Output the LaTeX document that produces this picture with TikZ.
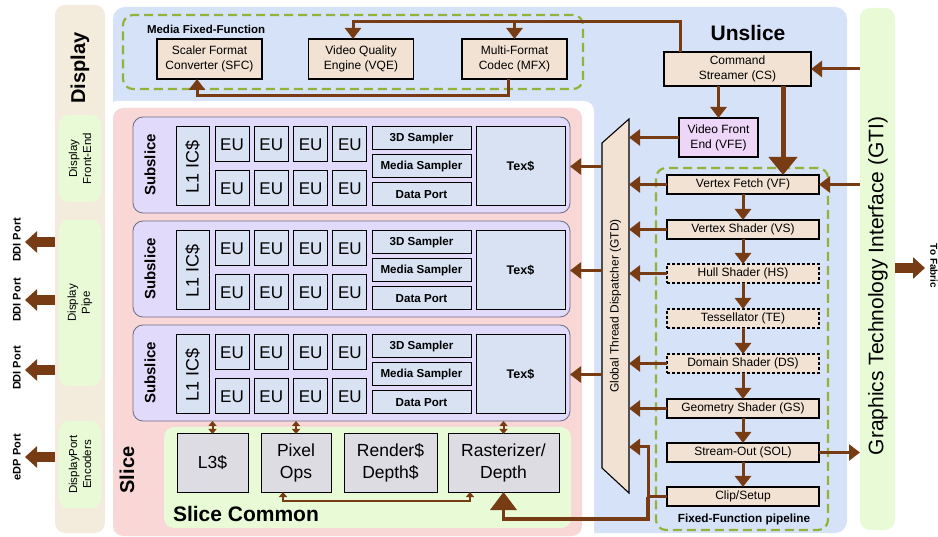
\documentclass[tikz,border=0pt]{standalone}
\usepackage{fontspec}
\setmainfont{Liberation Sans}
\usetikzlibrary{arrows.meta,calc}

\definecolor{brn}{RGB}{120,60,20}
\definecolor{unslicebg}{RGB}{214,226,248}
\definecolor{slicebg}{RGB}{248,215,214}
\definecolor{subbg}{RGB}{226,218,250}
\definecolor{subedge}{RGB}{110,110,130}
\definecolor{cellbg}{RGB}{216,226,242}
\definecolor{tanbg}{RGB}{242,226,212}
\definecolor{vfebg}{RGB}{238,214,248}
\definecolor{greenbg}{RGB}{232,250,214}
\definecolor{dispbg}{RGB}{243,236,221}
\definecolor{dashgreen}{RGB}{146,178,58}
\definecolor{commonbox}{RGB}{220,220,226}

\newcommand\fsz[1]{\fontsize{#1}{#1}\selectfont}

\tikzset{
  every node/.style={inner sep=0pt, outer sep=0pt, align=center, font=\fsz{12}},
  panel/.style={rounded corners=10pt, draw=none},
  dashbox/.style={draw=dashgreen, line width=2.2pt, dash pattern=on 9pt off 5pt, rounded corners=10pt},
  tanbox/.style={draw=black, line width=1.1pt, fill=tanbg},
  stagebox/.style={tanbox, minimum width=152pt, minimum height=19pt, font=\fsz{12}},
  optstage/.style={stagebox, dash pattern=on 3pt off 2pt},
  cell/.style={draw=black, line width=1pt, fill=cellbg},
  commoncell/.style={draw=black, line width=1pt, fill=commonbox, minimum height=58pt, font={\fontsize{17.5}{21.5}\selectfont}},
  samp/.style={cell, minimum width=99pt, minimum height=23pt, font=\bfseries\fsz{11.6}},
  arr/.style={draw=brn, line width=3pt, -{Triangle[length=11pt,width=16pt]}},
  bigarr/.style={draw=brn, line width=5pt, -{Triangle[length=18pt,width=28pt]}},
  portarr/.style={draw=brn, line width=10pt, -{Triangle[length=12pt,width=21pt]}},
  duo/.style={draw=brn, line width=2pt, {Triangle[length=5pt,width=8pt]}-{Triangle[length=5pt,width=8pt]}},
  portlbl/.style={rotate=90, font=\bfseries\fsz{11}},
}

\begin{document}
\begin{tikzpicture}[x=1pt,y=-1pt]
\useasboundingbox (0,0) rectangle (938,537);

% ---------- Display column ----------
\node[panel, fill=dispbg, minimum width=50pt, minimum height=528pt] (disp) at (80,269) {};
\node[rotate=90, font=\bfseries\fsz{20}] (displbl) at (80,68) {Display};
\node[panel, fill=greenbg, rotate=90, minimum width=87pt, minimum height=42pt,
      font={\fontsize{11.5}{14}\selectfont}] (dfe) at (80,158.5) {Display\\Front-End};
\node[panel, fill=greenbg, rotate=90, minimum width=166pt, minimum height=42pt,
      font={\fontsize{11.5}{14}\selectfont}] (dpipe) at (80,303) {Display\\Pipe};
\node[panel, fill=greenbg, rotate=90, minimum width=87pt, minimum height=42pt,
      font={\fontsize{11.5}{14}\selectfont}] (dpenc) at (80,464.5) {DisplayPort\\Encoders};

\coordinate (p1) at (25,242);
\coordinate (p2) at (25,300);
\coordinate (p3) at (25,370);
\coordinate (p4) at (25,457);
\foreach \p in {p1,p2,p3,p4} \draw[portarr] (disp.west |- \p) -- (\p);
\node[portlbl] (lp1) at (17,240) {DDI Port};
\node[portlbl] (lp2) at (17,300) {DDI Port};
\node[portlbl] (lp3) at (17,368) {DDI Port};
\node[portlbl] (lp4) at (17,457) {eDP Port};

% ---------- Unslice and Slice backgrounds ----------
\node[panel, fill=unslicebg, minimum width=734pt, minimum height=526pt, rounded corners=12pt] (unslice) at (480,270) {};
\node[panel, fill=white, minimum width=487pt, minimum height=444pt] (gap) at (350.5,323) {};
\node[panel, fill=slicebg, minimum width=469pt, minimum height=428pt] (slice) at (347.5,322) {};
\node[rotate=90, font=\bfseries\fsz{20}] (slicelbl) at (127,470) {Slice};
\node[font=\bfseries\fsz{21}] (unslicelbl) at (748,33) {Unslice};

% ---------- GTI ----------
\node[panel, fill=greenbg, minimum width=35pt, minimum height=522pt] (gti) at (877.5,269) {};
\node[rotate=90, font=\fsz{21}] (gtilbl) at (878,286) {Graphics Technology Interface (GTI)};
\coordinate (fab) at (925,268);
\draw[portarr] (gti.east |- fab) -- (fab);
\node[rotate=-90, font=\bfseries\fsz{10}] (fablbl) at (934,266) {To Fabric};

% ---------- Media fixed-function ----------
\node[dashbox, minimum width=460pt, minimum height=74pt] (mff) at (353,52) {};
\node[anchor=west, font=\bfseries\fsz{11.5}] (mfflbl) at (147,29) {Media Fixed-Function};
\node[tanbox, minimum width=105pt, minimum height=40pt, font={\fontsize{12}{15}\selectfont}] (sfc) at (209.5,59) {Scaler Format\\Converter (SFC)};
\node[tanbox, minimum width=105pt, minimum height=40pt, font={\fontsize{12}{15}\selectfont}] (vqe) at (361,59) {Video Quality\\Engine (VQE)};
\node[tanbox, minimum width=105pt, minimum height=40pt, font={\fontsize{12}{15}\selectfont}] (mfx) at (514.5,59) {Multi-Format\\Codec (MFX)};

% ---------- Command streamer / VFE ----------
\node[tanbox, minimum width=147pt, minimum height=34pt, font={\fontsize{12}{14.5}\selectfont}] (cs) at (737.5,69) {Command\\Streamer (CS)};
\node[draw=black, line width=1.1pt, fill=vfebg, minimum width=79pt, minimum height=39pt, font={\fontsize{12}{15}\selectfont}] (vfe) at (718.5,137.5) {Video Front\\End (VFE)};

% ---------- Global thread dispatcher ----------
\filldraw[fill=tanbg, draw=black, line width=1.1pt] (602,143) -- (629,119) -- (629,493) -- (602,468) -- cycle;
\node[minimum width=27pt, minimum height=374pt] (gtd) at (615.5,306) {};
\node[rotate=90, font=\fsz{12}] (gtdlbl) at (615.5,306) {Global Thread Dispatcher (GTD)};

% ---------- Fixed-function pipeline ----------
\node[dashbox, minimum width=172pt, minimum height=362pt] (ffp) at (742,349) {};
\node[font=\bfseries\fsz{11.8}] (ffplbl) at (744,519) {Fixed-Function pipeline};
\node[stagebox] (vf)   at (743,184.5) {Vertex Fetch (VF)};
\node[stagebox] (vs)   at (743,229.5) {Vertex Shader (VS)};
\node[optstage] (hs)   at (743,273.5) {Hull Shader (HS)};
\node[optstage] (te)   at (743,318.5) {Tessellator (TE)};
\node[optstage] (ds)   at (743,363.5) {Domain Shader (DS)};
\node[stagebox] (gs)   at (743,408.5) {Geometry Shader (GS)};
\node[stagebox] (sol)  at (743,452.5) {Stream-Out (SOL)};
\node[stagebox] (clip) at (743,496.5) {Clip/Setup};

% ---------- Subslices ----------
\foreach \k in {1,2,3} {
  \pgfmathsetmacro\t{117+104*(\k-1)}
  \node[draw=subedge, line width=0.8pt, fill=subbg, rounded corners=10pt,
        minimum width=437pt, minimum height=96pt] (sub\k) at (351.5,\t+48) {};
  \node[rotate=90, font=\bfseries\fsz{15}] (sublbl\k) at (150,\t+48) {Subslice};
  \node[cell, rotate=90, minimum width=79pt, minimum height=33pt, font=\fsz{18}] (l1\k) at (192.5,\t+49.5) {L1 IC\$};
  \foreach \c in {0,...,3} {
    \node[cell, minimum width=34pt, minimum height=35pt, font=\fsz{17}] (eua\k\c) at ({232+39.3*\c},\t+27.5) {EU};
    \node[cell, minimum width=34pt, minimum height=35pt, font=\fsz{17}] (eub\k\c) at ({232+39.3*\c},\t+71.5) {EU};
  }
  \node[samp] (smp\k) at (421.5,\t+21.5) {3D Sampler};
  \node[samp] (msm\k) at (421.5,\t+49.5) {Media Sampler};
  \node[samp] (dp\k)  at (421.5,\t+77.5) {Data Port};
  \node[cell, minimum width=89pt, minimum height=79pt, font=\bfseries\fsz{12.5}] (tex\k) at (520.5,\t+49.5) {Tex\$};
}

% ---------- Slice common ----------
\node[panel, fill=greenbg, minimum width=407pt, minimum height=101pt] (common) at (367.5,477.5) {};
\node[anchor=west, font=\bfseries\fsz{21}] (commonlbl) at (173,514) {Slice Common};
\node[commoncell, minimum width=71pt]  (l3)   at (212.5,463) {L3\$};
\node[commoncell, minimum width=70pt]  (pix)  at (296,463)   {Pixel\\Ops};
\node[commoncell, minimum width=93pt]  (rend) at (390.5,463) {Render\$\\Depth\$};
\node[commoncell, minimum width=111pt] (rast) at (503.5,463) {Rasterizer/\\Depth};

% ---------- Connectors ----------
% command streamer to media engines
\coordinate (mbend) at (353,22);
\draw[arr] ([xshift=16pt]cs.north west) |- (mbend) -- (mbend |- vqe.north);
\draw[arr] (mfx.north |- mbend) -- (mfx.north);
\coordinate (mlow) at (197,96);
\draw[arr] ([xshift=-6pt]mfx.south) |- (mlow) -- (mlow |- sfc.south);

% front end
\draw[arr] (gti.west |- cs.east) -- (cs.east);
\draw[arr] (cs.south -| vfe.north) -- (vfe.north);
\coordinate (csv) at ([xshift=45.5pt]cs.south);
\draw[bigarr] (csv) -- (csv |- vf.north);
\draw[arr] (vfe.west) -- (vfe.west -| gtd.east);

% 3D pipeline
\draw[arr] (gti.west |- vf.east) -- (vf.east);
\foreach \a/\b in {vf/vs, vs/hs, hs/te, te/ds, ds/gs, gs/sol, sol/clip}
  \draw[arr] (\a.south) -- (\b.north);
\foreach \a in {vf,vs,hs,ds,gs}
  \draw[arr] (\a.west) -- (\a.west -| gtd.east);
\draw[arr] (sol.east) -- (sol.east -| gti.west);
\coordinate (jn) at (648,447);
\coordinate (jb) at (648,519);
\draw[arr] (clip.west) -| (jn) -- (jn -| gtd.east);
\draw[draw=brn, line width=3.5pt, -{Triangle[length=18pt,width=26pt]}] (jn |- clip.west) -- (jb) -| (rast.south);

% dispatcher to subslices
\foreach \k in {1,2,3}
  \draw[arr] (gtd.west |- tex\k.east) -- (sub\k.east |- tex\k.east);

% subslice to slice common
\draw[duo] (sub3.south -| l3.north) -- (l3.north);
\draw[duo] (sub3.south -| pix.north) -- (pix.north);
\draw[duo] (sub3.south -| rast.north) -- (rast.north);
\draw[duo] ([xshift=-13pt]pix.south) -- ++(0,9) -| ([xshift=-33.5pt]rast.south);

\end{tikzpicture}
\end{document}
